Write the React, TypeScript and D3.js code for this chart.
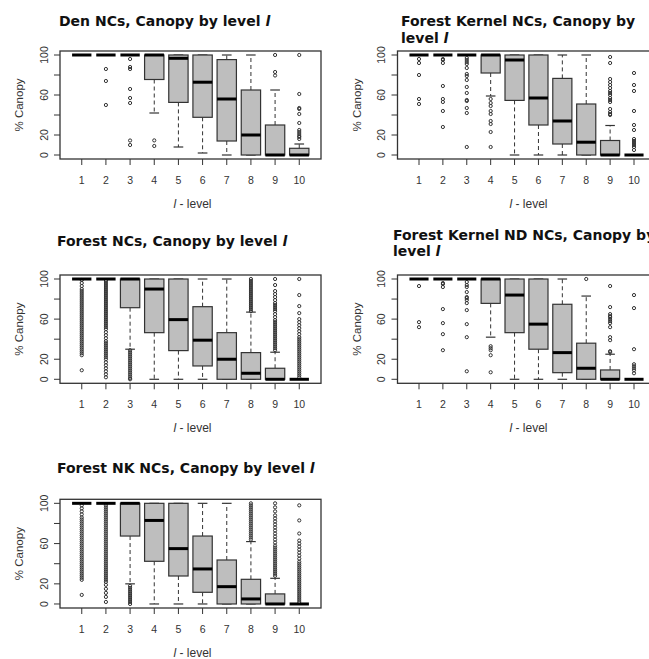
import React, { useEffect, useRef } from "react";
import * as d3 from "d3";

// levels on the x axis and y ticks
const levels = ["1", "2", "3", "4", "5", "6", "7", "8", "9", "10"];
const yTicks = [0, 20, 40, 60, 80, 100];
const yTickLabels = [0, 20, 60, 100];

// box stats per level: [lower whisker, q1, median, q3, upper whisker]
const denStats = [
  [100, 100, 100, 100, 100], [100, 100, 100, 100, 100], [100, 100, 100, 100, 100],
  [42, 75.5, 100, 100, 100], [8, 52.6, 96.7, 100, 100], [2, 37.7, 72.8, 100, 100],
  [0, 14, 56, 95.4, 100], [0, 0, 20, 65, 100], [0, 0, 0, 30, 65], [0, 0, 0, 6.7, 11],
];
const denOut = [
  [], [86, 74, 50], [96, 88, 86, 66, 57, 52, 14.5, 10], [14.6, 9], [], [], [], [],
  [100, 83, 79.5], [100, 61, 47, 46, 41, 32, 25, 23, 21, 19, 18, 16],
];

const kernelStats = [
  [100, 100, 100, 100, 100], [100, 100, 100, 100, 100], [100, 100, 100, 100, 100],
  [59, 82, 100, 100, 100], [0, 54.6, 95, 100, 100], [0, 30, 57, 100, 100],
  [0, 11, 34, 76.6, 100], [0, 0, 12.8, 51, 100], [0, 0, 0, 14.5, 29.5], [0, 0, 0, 0, 0],
];
const kernelOut = [
  [96, 92, 80, 56, 51],
  [96, 95, 92, 69, 56, 53, 44, 28],
  [97, 95, 93, 91, 87, 81, 79, 75, 68, 62, 55, 54, 47, 42, 8],
  [56, 52, 49, 44, 41, 34, 31, 23, 8],
  [], [], [], [],
  [98, 92, 76, 73, 70, 67, 64, 62, 60, 57, 55, 53, 46, 43, 41, 40],
  [82, 70, 64, 44, 30, 25, 16, 14, 12, 10, 8, 5],
];

const forestStats = [
  [100, 100, 100, 100, 100], [100, 100, 100, 100, 100], [30, 71.4, 100, 100, 100],
  [0, 46.5, 90, 100, 100], [0, 28.6, 59.5, 100, 100], [0, 13.3, 39, 72.4, 100],
  [0, 0, 20, 46.5, 100], [0, 0, 6, 26.6, 67], [0, 0, 0, 11, 27], [0, 0, 0, 0, 0],
];
const forestOut = [
  [99, 96, 93, 90, 88, 86, 84, 82, 80, 78, 76, 74, 72, 70, 68, 66, 64, 62, 60, 58, 56, 54, 52, 50, 48, 46, 44, 42, 40, 38, 36, 34, 32, 30, 28, 26, 24, 9],
  [98, 96, 94, 92, 90, 88, 86, 84, 82, 80, 78, 76, 74, 72, 70, 68, 66, 64, 62, 60, 58, 56, 54, 52, 50, 47, 44, 41, 38, 36, 34, 32, 30, 28, 26, 24, 22, 20, 17, 14, 11, 8, 5, 2],
  [29, 27, 25, 23, 21, 19, 17, 15, 13, 11, 9, 7, 5, 3, 1, 0],
  [], [], [], [],
  [100, 98, 96, 94, 92, 90, 88, 86, 84, 82, 80, 78, 76, 74, 72, 70, 68],
  [100, 94, 88, 85, 82, 79, 76, 74, 72, 70, 68, 65, 62, 59, 57, 55, 53, 51, 49, 47, 45, 43, 41, 39, 37, 35, 33, 31, 29],
  [100, 84, 73, 66, 60, 57, 54, 51, 48, 45, 42, 40, 38, 36, 34, 32, 30, 28, 26, 24, 22, 20, 18, 16, 14, 12, 10, 8, 6, 4, 2],
];

const ndStats = [
  [100, 100, 100, 100, 100], [100, 100, 100, 100, 100], [100, 100, 100, 100, 100],
  [42, 75.7, 100, 100, 100], [0, 46.5, 84, 100, 100], [0, 30, 55, 100, 100],
  [0, 6.6, 26.6, 74.8, 100], [0, 0, 11, 36, 83], [0, 0, 0, 9.3, 25], [0, 0, 0, 0, 0],
];
const ndOut = [
  [93, 57, 52],
  [96, 95, 92, 70, 56, 45, 29],
  [97, 94, 92, 87, 82, 81, 79, 76, 69, 55, 42, 8],
  [33, 31, 29, 24, 7],
  [], [], [],
  [100],
  [93, 72, 65, 63, 62, 60, 58, 56, 52, 42, 39, 28, 27],
  [84, 71, 30, 15, 13, 11, 9, 6],
];

const nkStats = [
  [100, 100, 100, 100, 100], [100, 100, 100, 100, 100], [20, 67.5, 100, 100, 100],
  [0, 42.4, 83, 100, 100], [0, 27.8, 55, 100, 100], [0, 11.6, 34.8, 67.5, 100],
  [0, 0, 17.2, 43.7, 100], [0, 0, 5, 24.5, 62], [0, 0, 0, 10, 25.5], [0, 0, 0, 0, 0],
];
const nkOut = [
  [98, 95, 92, 89, 86, 84, 82, 80, 78, 76, 74, 72, 70, 68, 66, 64, 62, 60, 58, 56, 54, 52, 50, 48, 46, 44, 42, 40, 38, 36, 34, 32, 30, 28, 26, 24, 9],
  [98, 96, 94, 92, 90, 88, 86, 84, 82, 80, 78, 76, 74, 72, 70, 68, 66, 64, 62, 60, 58, 56, 54, 52, 50, 48, 46, 44, 42, 40, 38, 36, 34, 32, 30, 28, 26, 24, 22, 19, 15, 11, 7, 2],
  [18, 16, 14, 12, 10, 8, 6, 4, 2, 0],
  [], [], [], [],
  [100, 98, 96, 94, 92, 90, 88, 86, 84, 82, 80, 78, 76, 74, 72, 70, 68, 66, 64],
  [100, 96, 92, 88, 85, 82, 79, 76, 73, 70, 67, 64, 61, 58, 56, 54, 52, 50, 48, 46, 44, 42, 40, 38, 36, 34, 32, 30, 28],
  [98, 83, 70, 63, 60, 57, 54, 51, 48, 45, 42, 40, 38, 36, 34, 32, 30, 28, 26, 24, 22, 20, 18, 16, 14, 12, 10, 8, 6, 4, 2],
];

const titles = [
  ["Den NCs, Canopy by level "],
  ["Forest Kernel NCs, Canopy by", "level "],
  ["Forest NCs, Canopy by level "],
  ["Forest Kernel ND NCs, Canopy by", "level "],
  ["Forest NK NCs, Canopy by level "],
];

const W = 649;
const H = 659;

const App = () => {
  const ref = useRef<SVGSVGElement>(null);

  useEffect(() => {
    const svg = d3.select(ref.current);
    svg.selectAll("*").remove();

    // panel placement (plot box in px, title anchor)
    const panels = [
      { stats: denStats, out: denOut, x0: 60, x1: 321, y0: 51, y1: 159, tx: 59, ty: [26] },
      { stats: kernelStats, out: kernelOut, x0: 397.5, x1: 655.5, y0: 51, y1: 159, tx: 401, ty: [26, 42.5] },
      { stats: forestStats, out: forestOut, x0: 60, x1: 321, y0: 275, y1: 383.3, tx: 57, ty: [246] },
      { stats: ndStats, out: ndOut, x0: 397.5, x1: 655.5, y0: 275, y1: 383.3, tx: 393, ty: [239.5, 256] },
      { stats: nkStats, out: nkOut, x0: 60, x1: 321, y0: 499.3, y1: 608, tx: 57, ty: [472.5] },
    ];

    panels.forEach((p, pi) => {
      const g = svg.append("g");
      const x = d3.scaleLinear().domain([0.1, 10.9]).range([p.x0, p.x1]);
      const y = d3.scaleLinear().domain([-4, 104]).range([p.y1, p.y0]);
      const bw = x(1.4) - x(1); // half box width (boxwex 0.8)
      const sw = x(1.2) - x(1); // half staple width

      // title
      const t = g.append("text")
        .attr("font-family", "DejaVu Sans, Verdana, sans-serif")
        .attr("font-weight", "bold")
        .attr("font-size", 14)
        .attr("fill", "#111");
      titles[pi].forEach((line, li) => {
        t.append("tspan").attr("x", p.tx).attr("y", p.ty[li]).text(line);
        if (li === titles[pi].length - 1) {
          t.append("tspan").attr("font-style", "italic").text("l");
        }
      });

      // outliers
      p.out.forEach((vals, i) => {
        g.selectAll(null)
          .data(vals)
          .enter()
          .append("circle")
          .attr("cx", x(i + 1))
          .attr("cy", (d) => y(d))
          .attr("r", 1.6)
          .attr("fill", "none")
          .attr("stroke", "#333")
          .attr("stroke-width", 1);
      });

      // boxes
      p.stats.forEach((s, i) => {
        const cx = x(i + 1);
        const [lo, q1, med, q3, hi] = s;
        // whiskers
        g.append("line").attr("x1", cx).attr("x2", cx).attr("y1", y(q3)).attr("y2", y(hi))
          .attr("stroke", "#333").attr("stroke-dasharray", "4,3");
        g.append("line").attr("x1", cx).attr("x2", cx).attr("y1", y(q1)).attr("y2", y(lo))
          .attr("stroke", "#333").attr("stroke-dasharray", "4,3");
        // staples
        [lo, hi].forEach((v) => {
          g.append("line").attr("x1", cx - sw).attr("x2", cx + sw).attr("y1", y(v)).attr("y2", y(v))
            .attr("stroke", "#333").attr("stroke-width", 1.2);
        });
        // box
        g.append("rect")
          .attr("x", cx - bw)
          .attr("y", y(q3))
          .attr("width", bw * 2)
          .attr("height", Math.max(0, y(q1) - y(q3)))
          .attr("fill", "#bebebe")
          .attr("stroke", "#333")
          .attr("stroke-width", 1.2);
        // median
        g.append("line").attr("x1", cx - bw).attr("x2", cx + bw).attr("y1", y(med)).attr("y2", y(med))
          .attr("stroke", "#000").attr("stroke-width", 3);
      });

      // plot frame
      g.append("rect")
        .attr("x", p.x0).attr("y", p.y0)
        .attr("width", p.x1 - p.x0).attr("height", p.y1 - p.y0)
        .attr("fill", "none").attr("stroke", "#333").attr("stroke-width", 1.3);

      // x axis ticks and labels
      levels.forEach((lab, i) => {
        g.append("line").attr("x1", x(i + 1)).attr("x2", x(i + 1)).attr("y1", p.y1).attr("y2", p.y1 + 6)
          .attr("stroke", "#333");
        g.append("text")
          .attr("x", x(i + 1)).attr("y", p.y1 + 25)
          .attr("text-anchor", "middle")
          .attr("font-family", "Liberation Sans, Arial, sans-serif")
          .attr("font-size", 10.5)
          .attr("fill", "#333")
          .text(lab);
      });

      // y axis ticks and labels
      yTicks.forEach((v) => {
        g.append("line").attr("x1", p.x0 - 6).attr("x2", p.x0).attr("y1", y(v)).attr("y2", y(v))
          .attr("stroke", "#333");
      });
      yTickLabels.forEach((v) => {
        g.append("text")
          .attr("transform", `translate(${p.x0 - 12.5},${y(v)}) rotate(-90)`)
          .attr("text-anchor", "middle")
          .attr("font-family", "Liberation Sans, Arial, sans-serif")
          .attr("font-size", 10.5)
          .attr("fill", "#333")
          .text(v);
      });

      // axis titles
      g.append("text")
        .attr("transform", `translate(${p.x0 - 37},${(p.y0 + p.y1) / 2}) rotate(-90)`)
        .attr("text-anchor", "middle")
        .attr("font-family", "Liberation Sans, Arial, sans-serif")
        .attr("font-size", 11.5)
        .attr("fill", "#333")
        .text("% Canopy");

      const xl = g.append("text")
        .attr("x", (p.x0 + p.x1) / 2 + 2).attr("y", p.y1 + 49)
        .attr("text-anchor", "middle")
        .attr("font-family", "Liberation Sans, Arial, sans-serif")
        .attr("font-size", 12)
        .attr("fill", "#333");
      xl.append("tspan").attr("font-style", "italic").text("l");
      xl.append("tspan").text(" - level");
    });
  }, []);

  return (
    <svg
      ref={ref}
      width={W}
      height={H}
      style={{ position: "absolute", left: 0, top: 0, background: "#fff" }}
    />
  );
};

export default App;
